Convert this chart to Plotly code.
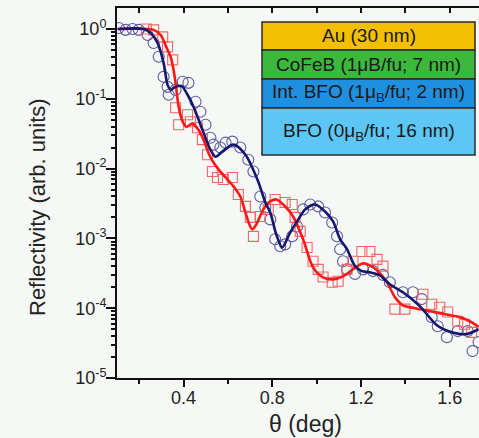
import plotly.graph_objects as go

# ---- data (theta in deg, reflectivity in arb. units) ----
circ_theta = [0.108, 0.139, 0.170, 0.198, 0.238, 0.265, 0.288, 0.310, 0.328, 0.333,
              0.364, 0.396, 0.422, 0.454, 0.476, 0.499, 0.521, 0.535, 0.566, 0.589,
              0.620, 0.656, 0.692, 0.715, 0.746, 0.769, 0.791, 0.813, 0.836, 0.858,
              0.890, 0.912, 0.939, 0.971, 1.007, 1.038, 1.070, 1.092, 1.106, 1.119,
              1.137, 1.173, 1.209, 1.254, 1.299, 1.330, 1.389, 1.434, 1.474, 1.519,
              1.546, 1.587, 1.636, 1.681, 1.703, 1.730]
circ_R = [1.03, 0.97, 1.0, 0.97, 0.82, 0.63, 0.40, 0.206, 0.148, 0.114,
          0.134, 0.175, 0.169, 0.0906, 0.0652, 0.0425, 0.0277, 0.0220, 0.0200, 0.0235,
          0.0243, 0.0200, 0.0134, 0.00906, 0.00398, 0.00277, 0.00187, 0.00097, 0.00077, 0.00082,
          0.00107, 0.00148, 0.00260, 0.00306, 0.00287, 0.00235, 0.00169, 0.00107, 0.00070, 0.00047,
          0.00036, 0.00031, 0.00036, 0.00034, 0.00030, 0.000235, 0.000169, 0.000169, 0.000135, 7.4e-5,
          5.5e-5, 3.85e-5, 4.7e-5, 4.7e-5, 2.43e-5, 3.27e-5]

sq_theta = [0.232, 0.265, 0.306, 0.328, 0.351, 0.364, 0.378, 0.418, 0.431, 0.463,
            0.485, 0.508, 0.530, 0.553, 0.580, 0.620, 0.647, 0.679, 0.701, 0.715,
            0.746, 0.782, 0.813, 0.858, 0.890, 0.903, 0.926, 0.957, 0.984, 1.007,
            1.029, 1.070, 1.097, 1.137, 1.164, 1.204, 1.240, 1.272, 1.299, 1.353,
            1.398, 1.479, 1.519, 1.555, 1.591, 1.636, 1.667, 1.699]
sq_R = [1.0, 0.97, 0.77, 0.553, 0.361, 0.0743, 0.0425, 0.0591, 0.0469, 0.0385,
        0.0260, 0.0158, 0.00906, 0.00743, 0.00697, 0.00743, 0.00425, 0.00287, 0.0020, 0.00107,
        0.00206, 0.00260, 0.00361, 0.00327, 0.00306, 0.0020, 0.00126, 0.00074, 0.00047, 0.00036,
        0.00028, 0.000235, 0.000243, 0.00036, 0.00047, 0.00065, 0.00065, 0.00050, 0.00040, 9.7e-5,
        9.7e-5, 0.000158, 0.000114, 0.000103, 8.8e-5, 6.5e-5, 5.9e-5, 4.5e-5]

fit_blue_theta = [0.103, 0.220, 0.252, 0.283, 0.310, 0.328, 0.342, 0.364, 0.391, 0.418,
                  0.445, 0.490, 0.521, 0.544, 0.575, 0.625, 0.679, 0.733, 0.769, 0.791,
                  0.818, 0.845, 0.881, 0.912, 0.948, 0.993, 1.038, 1.074, 1.106, 1.137,
                  1.173, 1.204, 1.240, 1.285, 1.330, 1.389, 1.465, 1.542, 1.613, 1.676, 1.730]
fit_blue_R = [1.0, 1.0, 0.877, 0.631, 0.327, 0.158, 0.135, 0.148, 0.153, 0.114,
              0.0769, 0.0327, 0.0187, 0.0148, 0.0175, 0.0220, 0.0158, 0.00697, 0.00327, 0.00235,
              0.00114, 0.000743, 0.00122, 0.00175, 0.00260, 0.00306, 0.00243, 0.00175, 0.00097, 0.00070,
              0.00040, 0.00034, 0.000327, 0.000296, 0.00022, 0.000169, 0.000107, 5.7e-5, 4.5e-5, 4.26e-5, 5.0e-5]

fit_red_theta = [0.103, 0.238, 0.265, 0.297, 0.324, 0.342, 0.355, 0.364, 0.378, 0.396,
                 0.413, 0.440, 0.467, 0.490, 0.512, 0.535, 0.566, 0.598, 0.629, 0.656,
                 0.679, 0.697, 0.710, 0.728, 0.760, 0.791, 0.818, 0.854, 0.894, 0.939,
                 0.984, 1.029, 1.074, 1.119, 1.164, 1.209, 1.240, 1.272, 1.317, 1.353,
                 1.389, 1.443, 1.510, 1.578, 1.645, 1.690, 1.730]
fit_red_R = [1.0, 1.0, 0.97, 0.82, 0.536, 0.398, 0.259, 0.169, 0.0769, 0.0469,
             0.0398, 0.0440, 0.0361, 0.0260, 0.0169, 0.0122, 0.00906, 0.00697, 0.00536, 0.00398,
             0.00235, 0.00158, 0.00135, 0.00158, 0.00260, 0.00338, 0.00361, 0.00296, 0.00206, 0.00097,
             0.000385, 0.000277, 0.000259, 0.000286, 0.000361, 0.00044, 0.000411, 0.000349, 0.000235, 0.000144,
             0.000110, 0.0001, 9.1e-5, 8.2e-5, 7.4e-5, 6.5e-5, 5.4e-5]

y_tickvals = [1e-5, 1e-4, 1e-3, 1e-2, 1e-1, 1e0]
y_ticktext = ["10<sup>-5</sup>", "10<sup>-4</sup>", "10<sup>-3</sup>",
              "10<sup>-2</sup>", "10<sup>-1</sup>", "10<sup>0</sup>"]
x_tickvals = [0.4, 0.8, 1.2, 1.6]
x_ticktext = ["0.4", "0.8", "1.2", "1.6"]

layers = ["Au (30 nm)", "CoFeB (1μB/fu; 7 nm)",
          "Int. BFO (1μ<sub>B</sub>/fu; 2 nm)", "BFO (0μ<sub>B</sub>/fu; 16 nm)"]
layer_colors = ["#f4bf00", "#3cb83c", "#1f8fe0", "#5cc6f6"]

FONT = "Liberation Sans, Arial, sans-serif"
BG = "#f5f8f5"
ML, MR, MT, MB = 117, 0, 8, 60
W, H = 479, 438
PW, PH = W - ML - MR, H - MT - MB

def paper_x(px):
    return (px - ML) / PW

def paper_y(py):
    return (H - MB - py) / PH

fig = go.Figure()
fig.add_trace(go.Scatter(x=circ_theta, y=circ_R, mode="markers",
                         marker=dict(symbol="circle-open", size=11, color="#5d5da0",
                                     line=dict(width=1.1)), showlegend=False))
fig.add_trace(go.Scatter(x=sq_theta, y=sq_R, mode="markers",
                         marker=dict(symbol="square-open", size=10, color="#ef6868",
                                     line=dict(width=1.1)), showlegend=False))
fig.add_trace(go.Scatter(x=fit_red_theta, y=fit_red_R, mode="lines",
                         line=dict(color="#ff1616", width=2.6, shape="spline", smoothing=0.8),
                         showlegend=False))
fig.add_trace(go.Scatter(x=fit_blue_theta, y=fit_blue_R, mode="lines",
                         line=dict(color="#16166e", width=2.6, shape="spline", smoothing=0.8),
                         showlegend=False))
fig.add_trace(go.Scatter(x=[], y=[], xaxis="x2", showlegend=False))

minor_y = [m * 10 ** e for e in range(-5, 0) for m in range(2, 10)]

fig.update_layout(
    width=W, height=H,
    margin=dict(l=ML, r=MR, t=MT, b=MB, autoexpand=False),
    paper_bgcolor=BG, plot_bgcolor=BG,
    font=dict(family=FONT, size=16, color="#222"),
    xaxis=dict(range=[0.1, 1.732], tickvals=x_tickvals, ticktext=x_ticktext,
               ticks="outside", ticklen=7, tickwidth=2, tickcolor="#111",
               minor=dict(tickvals=[0.2, 0.6, 1.0, 1.4], ticks="outside", ticklen=4,
                          tickwidth=2, tickcolor="#111"),
               showline=True, linecolor="#111", linewidth=2, showgrid=False, zeroline=False,
               tickfont=dict(size=18, family=FONT), ticklabelstandoff=-5, automargin=False),
    xaxis2=dict(range=[0.1, 1.732], overlaying="x", side="top", anchor="y",
                tickvals=[0.2, 0.4, 0.6, 0.8, 1.0, 1.2, 1.4, 1.6], showticklabels=False,
                ticks="inside", ticklen=5, tickwidth=2, tickcolor="#111",
                showline=True, linecolor="#111", linewidth=2, showgrid=False, zeroline=False,
                automargin=False),
    yaxis=dict(type="log", range=[-5, 0.3], tickvals=y_tickvals, ticktext=y_ticktext,
               ticks="outside", ticklen=9, tickwidth=2, tickcolor="#111",
               minor=dict(tickvals=minor_y, ticks="outside", ticklen=4, tickwidth=1.5,
                          tickcolor="#111"),
               showline=True, linecolor="#111", linewidth=2, showgrid=False, zeroline=False,
               tickfont=dict(size=18, family=FONT), ticklabelstandoff=-4, automargin=False),
)

# axis titles
fig.add_annotation(xref="paper", yref="paper", x=paper_x(305), y=paper_y(424),
                   text="θ (deg)", showarrow=False, font=dict(size=23, family=FONT, color="#222"),
                   xanchor="center", yanchor="middle")
fig.add_annotation(xref="paper", yref="paper", x=paper_x(37), y=paper_y(207),
                   text="Reflectivity (arb. units)", showarrow=False, textangle=-90,
                   font=dict(size=22, family=FONT, color="#222"),
                   xanchor="center", yanchor="middle")

# layer-stack inset
bounds = [22, 50, 79, 108, 155]
for i, (label, col) in enumerate(zip(layers, layer_colors)):
    y0 = paper_y(bounds[i + 1])
    y1 = paper_y(bounds[i])
    fig.add_shape(type="rect", xref="paper", yref="paper",
                  x0=paper_x(262), x1=paper_x(475), y0=y0, y1=y1,
                  fillcolor=col, line=dict(color="#2a2a2a", width=1.5), layer="above")
    fig.add_annotation(xref="paper", yref="paper", x=paper_x(368.5), y=(y0 + y1) / 2,
                       text=label, showarrow=False, font=dict(size=19, family=FONT, color="#1a1a1a"),
                       xanchor="center", yanchor="middle")

fig.write_html("out.html", config={"displayModeBar": False},
               post_script="document.body.style.margin='0';document.body.style.padding='0';"
                           "document.body.style.overflow='hidden';"
                           "document.documentElement.style.background='" + BG + "';")
